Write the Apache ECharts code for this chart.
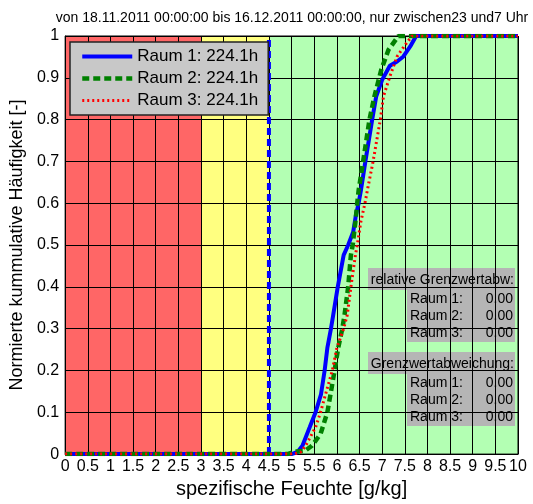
<!DOCTYPE html>
<html>
<head>
<meta charset="utf-8">
<script src="https://cdn.jsdelivr.net/npm/echarts@6/dist/echarts.min.js"></script>
<style>html,body{margin:0;padding:0;background:#fff}#c{width:533px;height:504px}</style>
</head>
<body>
<div id="c"></div>
<script>
const titleText = 'von 18.11.2011 00:00:00 bis 16.12.2011 00:00:00, nur zwischen23 und7 Uhr';
const xName = 'spezifische Feuchte [g/kg]';
const yName = 'Normierte kummulative Häufigkeit [-]';
const seriesNames = ['Raum 1: 224.1h', 'Raum 2: 224.1h', 'Raum 3: 224.1h'];

const raum1X = [0, 5.0, 5.13, 5.24, 5.40, 5.53, 5.65, 5.73, 5.79, 5.87, 5.92, 6.02, 6.15, 6.25, 6.36, 6.42, 6.48, 6.53, 6.63, 6.78, 6.87, 7.0, 7.17, 7.33, 7.47, 7.62, 7.75, 10];
const raum1Y = [0, 0, 0.005, 0.02, 0.064, 0.1, 0.143, 0.2, 0.254, 0.3, 0.333, 0.4, 0.476, 0.5, 0.531, 0.571, 0.6, 0.63, 0.7, 0.8, 0.856, 0.895, 0.929, 0.939, 0.951, 0.975, 1, 1];

const raum2X = [0, 4.9, 5.1, 5.3, 5.45, 5.64, 5.79, 5.86, 5.95, 6.03, 6.12, 6.17, 6.25, 6.31, 6.35, 6.41, 6.45, 6.48, 6.58, 6.72, 6.83, 6.98, 7.14, 7.36, 10];
const raum2Y = [0, 0, 0.006, 0.008, 0.02, 0.048, 0.1, 0.143, 0.2, 0.254, 0.3, 0.333, 0.4, 0.476, 0.5, 0.556, 0.6, 0.63, 0.7, 0.8, 0.856, 0.919, 0.967, 1, 1];

const raum3X = [0, 5.05, 5.2, 5.31, 5.53, 5.64, 5.75, 5.90, 6.0, 6.15, 6.23, 6.31, 6.41, 6.45, 6.53, 6.62, 6.69, 6.8, 6.96, 7.03, 7.17, 7.33, 7.51, 7.66, 10];
const raum3Y = [0, 0, 0.005, 0.02, 0.064, 0.1, 0.143, 0.2, 0.254, 0.3, 0.333, 0.4, 0.476, 0.5, 0.556, 0.6, 0.64, 0.7, 0.8, 0.856, 0.903, 0.951, 0.979, 1, 1];

const zoneEdges = [0, 3, 4.5, 10];
const limitX = 4.5;

const relTitle = 'relative Grenzwertabw:';
const absTitle = 'Grenzwertabweichung:';
const roomLabels = ['Raum 1:', 'Raum 2:', 'Raum 3:'];
const relValues = ['0.00', '0.00', '0.00'];
const absValues = ['0.00', '0.00', '0.00'];

const zoneColors = ['#ff6666', '#ffff80', '#b3ffb3'];
const lineColors = ['#0000ff', '#008000', '#ff0000'];
const FONT = 'Liberation Sans, Arial, sans-serif';

function pairs(xs, ys) { return xs.map((x, i) => [x, ys[i]]); }

const zoneSeries = zoneColors.map((col, i) => ({
  type: 'line', silent: true, z: -3, symbol: 'none',
  data: [[zoneEdges[i], 1], [zoneEdges[i + 1], 1]],
  lineStyle: { width: 0, opacity: 0 },
  areaStyle: { color: col, opacity: 1 },
  clip: true
}));

const curveStyles = [
  { width: 4, type: 'solid' },
  { width: 4.5, type: [7, 4] },
  { width: 3, type: [2, 3] }
];
const curveData = [pairs(raum1X, raum1Y), pairs(raum2X, raum2Y), pairs(raum3X, raum3Y)];

const curveSeries = seriesNames.map((n, i) => ({
  name: n, type: 'line', symbol: 'none', showSymbol: false, z: 3 + i,
  data: curveData[i],
  lineStyle: { color: lineColors[i], width: curveStyles[i].width, type: curveStyles[i].type },
  itemStyle: { color: lineColors[i] }
}));

const limitSeries = {
  type: 'line', symbol: 'none', z: 2, silent: true,
  data: [[limitX, 0], [limitX, 1]],
  lineStyle: { color: '#0000ff', width: 4, type: [7, 4] }
};

function boxGroup(top, title, values) {
  const els = [];
  els.push({ type: 'rect', z: -1, shape: { x: 368, y: top, width: 147, height: 22 }, style: { fill: '#b5b5b5' } });
  els.push({ type: 'rect', z: -1, shape: { x: 407, y: top + 22, width: 108, height: 52 }, style: { fill: '#b5b5b5' } });
  els.push({ type: 'text', z: -1, style: { x: 514, y: top + 12, text: title, align: 'right', verticalAlign: 'middle', font: '14px ' + FONT, fill: '#000' } });
  roomLabels.forEach((l, i) => {
    const y = top + 31 + i * 17;
    els.push({ type: 'text', z: -1, style: { x: 410, y: y, text: l, align: 'left', verticalAlign: 'middle', font: '14px ' + FONT, fill: '#000' } });
    els.push({ type: 'text', z: -1, style: { x: 513, y: y, text: values[i], align: 'right', verticalAlign: 'middle', font: '14px ' + FONT, fill: '#000' } });
  });
  return els;
}

const legendData = seriesNames.map((n, i) => ({
  name: n,
  itemStyle: { opacity: 0 },
  lineStyle: { color: lineColors[i], width: curveStyles[i].width, type: curveStyles[i].type }
}));

const chart = echarts.init(document.getElementById('c'), null, { renderer: 'canvas' });
chart.setOption({
  animation: false,
  backgroundColor: '#fff',
  textStyle: { fontFamily: FONT },
  title: {
    text: titleText, left: 287, top: 6, textAlign: 'center',
    textStyle: { fontSize: 14, fontWeight: 'normal', color: '#000', fontFamily: FONT }
  },
  grid: { left: 64, right: 15, top: 36, bottom: 47, show: true, borderColor: '#000', borderWidth: 1, backgroundColor: 'transparent' },
  legend: {
    data: legendData, orient: 'vertical', left: 70, top: 42,
    padding: [6, 10], itemGap: 5, itemWidth: 50, itemHeight: 17,
    backgroundColor: '#c8c8c8', borderColor: '#222', borderWidth: 1.5,
    itemStyle: { opacity: 0 },
    textStyle: { fontSize: 17, color: '#000', fontFamily: FONT },
    selectedMode: false
  },
  xAxis: {
    type: 'value', min: 0, max: 10, interval: 0.5,
    name: xName, nameLocation: 'middle', nameGap: 22,
    nameTextStyle: { fontSize: 20, color: '#000', fontFamily: FONT },
    axisLine: { show: true, onZero: false, lineStyle: { color: '#000' } },
    axisTick: { show: true, inside: true, length: 4, lineStyle: { color: '#000' } },
    axisLabel: { fontSize: 16, color: '#000', margin: 4, fontFamily: FONT, hideOverlap: false },
    splitLine: { show: true, lineStyle: { color: '#000', width: 1 } }
  },
  yAxis: {
    type: 'value', min: 0, max: 1, interval: 0.1,
    name: yName, nameLocation: 'middle', nameGap: 37,
    nameTextStyle: { fontSize: 18, color: '#000', fontFamily: FONT },
    axisLine: { show: true, lineStyle: { color: '#000' } },
    axisTick: { show: true, inside: true, length: 4, lineStyle: { color: '#000' } },
    axisLabel: { fontSize: 16, color: '#000', margin: 6, fontFamily: FONT },
    splitLine: { show: true, lineStyle: { color: '#000', width: 1 } }
  },
  graphic: { elements: boxGroup(268, relTitle, relValues).concat(boxGroup(352, absTitle, absValues)) },
  series: zoneSeries.concat([limitSeries]).concat(curveSeries)
});
</script>
</body>
</html>
